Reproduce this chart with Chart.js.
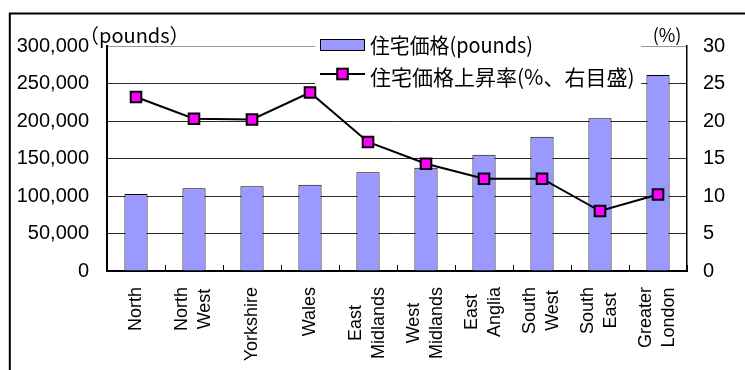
<!DOCTYPE html>
<html lang="ja">
<head>
    <meta charset="utf-8">
    <title>住宅価格</title>
    <script src="https://cdn.jsdelivr.net/npm/chart.js"></script>
    <style>
        html, body { margin: 0; padding: 0; background: #fff; }
        #wrap { position: relative; width: 745px; height: 370px; }
    </style>
</head>
<body>
    <div id="wrap"><canvas id="myChart" width="745" height="370"></canvas></div>
    <script>
        // 地域名（2行ラベルは配列）
        const regions = [
            ['North'], ['North', 'West'], ['Yorkshire'], ['Wales'],
            ['East', 'Midlands'], ['West', 'Midlands'], ['East', 'Anglia'],
            ['South', 'West'], ['South', 'East'], ['Greater', 'London']
        ];
        // 住宅価格 (pounds)
        const prices = [102700, 110300, 112900, 115100, 131600, 137800, 155100, 179100, 203600, 261300];
        // 住宅価格上昇率 (%)
        const growth = [23.2, 20.3, 20.2, 23.8, 17.2, 14.3, 12.3, 12.3, 8.0, 10.2];

        const priceTicks = { min: 0, max: 300000, step: 50000 };
        const growthTicks = { min: 0, max: 30, step: 5 };

        const latin = "'Liberation Sans', Arial, sans-serif";
        const cjk = "'Noto Sans CJK JP', sans-serif";

        // 縦書きラベルを行ごとに中央揃えにするカテゴリ軸
        class RegionAxis extends Chart.CategoryScale {
            _computeLabelItems(chartArea) {
                const items = super._computeLabelItems(chartArea);
                const ctx = this.ctx;
                items.forEach(item => {
                    const lines = Array.isArray(item.label) ? item.label : [item.label];
                    ctx.save();
                    ctx.font = item.font.string;
                    const w = Math.max(...lines.map(l => ctx.measureText(l).width));
                    ctx.restore();
                    item.options.textAlign = 'center';
                    item.options.translation[1] += w / 2;
                    item.options.translation[0] -= (lines.length - 1) * item.font.lineHeight / 2;
                });
                return items;
            }
        }
        RegionAxis.id = 'regionAxis';
        RegionAxis.defaults = Chart.CategoryScale.defaults;
        Chart.register(RegionAxis);

        // 外枠と軸の単位
        const framePlugin = {
            id: 'frame',
            beforeDraw(chart) {
                const ctx = chart.ctx;
                ctx.save();
                ctx.strokeStyle = '#000';
                ctx.lineWidth = 2;
                ctx.beginPath();
                ctx.moveTo(9.8, 372);
                ctx.lineTo(9.8, 13.5);
                ctx.lineTo(750, 13.5);
                ctx.stroke();
                ctx.restore();
            },
            afterDraw(chart) {
                const ctx = chart.ctx;
                ctx.save();
                ctx.fillStyle = '#000';
                ctx.textBaseline = 'middle';
                ctx.font = '20px ' + cjk;
                ctx.textAlign = 'left';
                ctx.fillText('（pounds）', 79, 35);
                ctx.font = '18px ' + cjk;
                ctx.textAlign = 'center';
                ctx.fillText('(%)', 667, 35);
                ctx.restore();
            }
        };

        // 凡例（グラフ内右上、白地）
        const legendBox = { left: 315, top: 28, right: 641, bottom: 95 };
        const insideLegend = {
            id: 'insideLegend',
            beforeDatasetsDraw(chart) {
                const ctx = chart.ctx;
                ctx.save();
                ctx.fillStyle = '#fff';
                ctx.fillRect(legendBox.left, legendBox.top,
                    legendBox.right - legendBox.left, legendBox.bottom - legendBox.top);
                ctx.restore();
            },
            afterDatasetsDraw(chart) {
                const ctx = chart.ctx;
                const sets = chart.data.datasets;
                const bar = sets.find(d => d.type === 'bar');
                const line = sets.find(d => d.type === 'line');
                ctx.save();
                // 棒の見本
                ctx.fillStyle = bar.backgroundColor;
                ctx.strokeStyle = bar.borderColor;
                ctx.lineWidth = 1;
                ctx.fillRect(320, 39, 45, 12);
                ctx.strokeRect(320.5, 39.5, 44, 11);
                // 折れ線の見本
                ctx.strokeStyle = line.borderColor;
                ctx.lineWidth = line.borderWidth;
                ctx.beginPath();
                ctx.moveTo(320, 74);
                ctx.lineTo(365, 74);
                ctx.stroke();
                ctx.fillStyle = line.pointBackgroundColor;
                ctx.strokeStyle = line.pointBorderColor;
                ctx.lineWidth = line.pointBorderWidth;
                const s = line.pointRadius * Math.SQRT1_2;
                ctx.fillRect(342.5 - s, 74 - s, 2 * s, 2 * s);
                ctx.strokeRect(342.5 - s, 74 - s, 2 * s, 2 * s);
                // 凡例テキスト
                ctx.fillStyle = '#000';
                ctx.font = '21px ' + cjk;
                ctx.textAlign = 'left';
                ctx.textBaseline = 'middle';
                ctx.fillText(bar.label, 370, 45, 163);
                ctx.fillText(line.label, 370, 77, 267);
                ctx.restore();
            }
        };

        const ctx = document.getElementById('myChart').getContext('2d');
        const myChart = new Chart(ctx, {
            data: {
                labels: regions,
                datasets: [
                    {
                        type: 'line',
                        label: '住宅価格上昇率(%、右目盛)',
                        data: growth,
                        yAxisID: 'y1',
                        order: 0,
                        borderColor: '#000',
                        borderWidth: 2,
                        tension: 0,
                        pointStyle: 'rect',
                        pointRadius: 7.5,
                        pointBackgroundColor: '#FF00FF',
                        pointBorderColor: '#000',
                        pointBorderWidth: 2
                    },
                    {
                        type: 'bar',
                        label: '住宅価格(pounds)',
                        data: prices,
                        yAxisID: 'y',
                        order: 1,
                        backgroundColor: '#9999FF',
                        borderColor: '#000',
                        borderWidth: 1,
                        categoryPercentage: 1,
                        barPercentage: 0.4
                    }
                ]
            },
            options: {
                responsive: false,
                animation: false,
                devicePixelRatio: 1,
                layout: { padding: { top: 46, left: 0, right: 0, bottom: 0 } },
                plugins: {
                    legend: { display: false },
                    tooltip: { enabled: false }
                },
                scales: {
                    x: {
                        type: 'regionAxis',
                        position: 'bottom',
                        offset: true,
                        afterFit: s => { s.height = 99; },
                        border: { display: true, color: '#000', width: 2 },
                        grid: {
                            offset: true,
                            drawOnChartArea: false,
                            drawTicks: true,
                            tickLength: -6,
                            color: '#000',
                            lineWidth: 1
                        },
                        ticks: {
                            autoSkip: false,
                            minRotation: 90,
                            maxRotation: 90,
                            padding: 22,
                            color: '#000',
                            font: { family: latin, size: 18, lineHeight: 1.28 }
                        }
                    },
                    y: {
                        position: 'left',
                        min: priceTicks.min,
                        max: priceTicks.max,
                        afterFit: s => { s.width = 107; },
                        border: { display: true, color: '#000', width: 2 },
                        grid: {
                            drawTicks: false,
                            color: c => (c.tick && c.tick.value === priceTicks.max) ? '#999' : '#2a2a2a',
                            lineWidth: 1
                        },
                        ticks: {
                            stepSize: priceTicks.step,
                            padding: 18,
                            color: '#000',
                            font: { family: latin, size: 20 },
                            callback: v => v.toLocaleString('en-US')
                        }
                    },
                    y1: {
                        position: 'right',
                        min: growthTicks.min,
                        max: growthTicks.max,
                        afterFit: s => { s.width = 58; },
                        border: { display: true, color: '#000', width: 1.5 },
                        grid: { drawOnChartArea: false, drawTicks: false },
                        ticks: {
                            stepSize: growthTicks.step,
                            padding: 16,
                            color: '#000',
                            font: { family: latin, size: 20 }
                        }
                    }
                }
            },
            plugins: [framePlugin, insideLegend]
        });
    </script>
</body>
</html>
